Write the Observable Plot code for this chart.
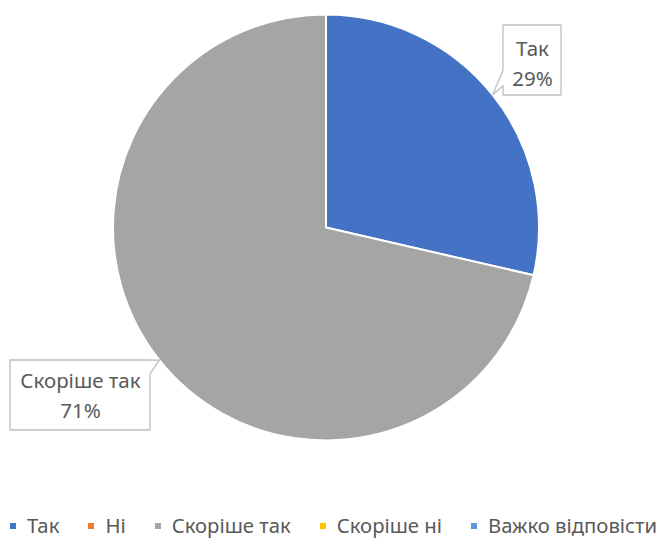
<!DOCTYPE html>
<html>
<head>
<meta charset="utf-8">
<script src="https://cdn.jsdelivr.net/npm/d3@7"></script>
<script src="https://cdn.jsdelivr.net/npm/@observablehq/plot@0.6"></script>
<style>
  html, body { margin: 0; padding: 0; background: #fff; }
  body { width: 667px; height: 540px; overflow: hidden; font-family: "Noto Sans", sans-serif; }
  #legend { display: flex; justify-content: center; align-items: center; height: 22px; padding-top: 9px;
            font-size: 20.3px; line-height: 21px; color: #595959; }
  #legend .item { display: flex; align-items: center; margin: 0 14.5px; white-space: nowrap; }
  #legend .sw { width: 6px; height: 6px; margin-right: 11px; margin-top: 1px; }
</style>
</head>
<body>
<div id="chart"></div>
<div id="legend"></div>
<script>
// ---- data ----
const categories = ["Так", "Ні", "Скоріше так", "Скоріше ні", "Важко відповісти"];
const shares = [28.6, 0, 71.4, 0, 0];
const colors = ["#4472C4", "#ED7D31", "#A5A5A5", "#FFC000", "#5B9BD5"];

// ---- layout ----
const W = 667, H = 505, CX = 326, CY = 227.5, R = 213;
const data = categories.map((c, i) => ({category: c, value: shares[i], color: colors[i]}));
const arcs = d3.pie().sort(null).value(d => d.value)(data);
const total = d3.sum(shares);

// callout boxes (pixel layout), keyed by category index
const callouts = [
  {i: 0, box: [503, 25, 561, 95], base: [[503, 70], [503, 86]], lines: [55, 85]},
  {i: 2, box: [10, 360, 150, 430], base: [[146, 360], [150, 374]], lines: [387, 417]}
];
const toUX = px => (px - CX) / R;
const toUY = py => (CY - py) / R;

const labelRows = callouts.flatMap(c => {
  const d = data[c.i];
  const pct = Math.round(d.value / total * 100) + "%";
  const mx = (c.box[0] + c.box[2]) / 2;
  return [
    {x: toUX(mx), y: toUY(c.lines[0]), text: d.category},
    {x: toUX(mx), y: toUY(c.lines[1]), text: pct}
  ];
});

const pieMark = (index, scales) => {
  const cx = scales.x(0), cy = scales.y(0), r = scales.x(1) - scales.x(0);
  const g = d3.create("svg:g");
  g.append("g").attr("transform", `translate(${cx},${cy})`)
    .selectAll("path").data(arcs.filter(a => a.value > 0)).join("path")
    .attr("d", d3.arc().innerRadius(0).outerRadius(r))
    .attr("fill", a => a.data.color)
    .attr("stroke", "#fff").attr("stroke-width", 2).attr("stroke-linejoin", "round");
  // callout shapes
  for (const c of callouts) {
    const a = arcs[c.i];
    const mid = (a.startAngle + a.endAngle) / 2;
    const tx = scales.x(Math.sin(mid)), ty = scales.y(Math.cos(mid));
    const [L, T, Rt, B] = c.box;
    let p;
    if (c.i === 0) {
      p = `M${L},${T}H${Rt}V${B}H${L}V${c.base[1][1]}L${tx},${ty}L${c.base[0][0]},${c.base[0][1]}Z`;
    } else {
      p = `M${L},${T}H${c.base[0][0]}L${tx},${ty}L${c.base[1][0]},${c.base[1][1]}V${B}H${L}Z`;
    }
    g.append("path").attr("d", p).attr("fill", "#fff").attr("stroke", "#BFBFBF").attr("stroke-width", 1.3);
  }
  return g.node();
};

const chart = Plot.plot({
  width: W, height: H,
  margin: 0,
  style: {fontFamily: "'Noto Sans', sans-serif", background: "#fff"},
  x: {domain: [-CX / R, (W - CX) / R], range: [0, W], axis: null},
  y: {domain: [-(H - CY) / R, CY / R], range: [H, 0], axis: null},
  marks: [
    pieMark,
    Plot.text(labelRows, {x: "x", y: "y", text: "text", fill: "#595959", fontSize: 20.5,
      lineAnchor: "bottom", textAnchor: "middle"})
  ]
});
document.getElementById("chart").appendChild(chart);

// legend
const legend = document.getElementById("legend");
data.forEach(d => {
  const it = document.createElement("div");
  it.className = "item";
  const sw = document.createElement("span");
  sw.className = "sw"; sw.style.background = d.color;
  const tx = document.createElement("span");
  tx.textContent = d.category;
  it.appendChild(sw); it.appendChild(tx);
  legend.appendChild(it);
});
</script>
</body>
</html>
